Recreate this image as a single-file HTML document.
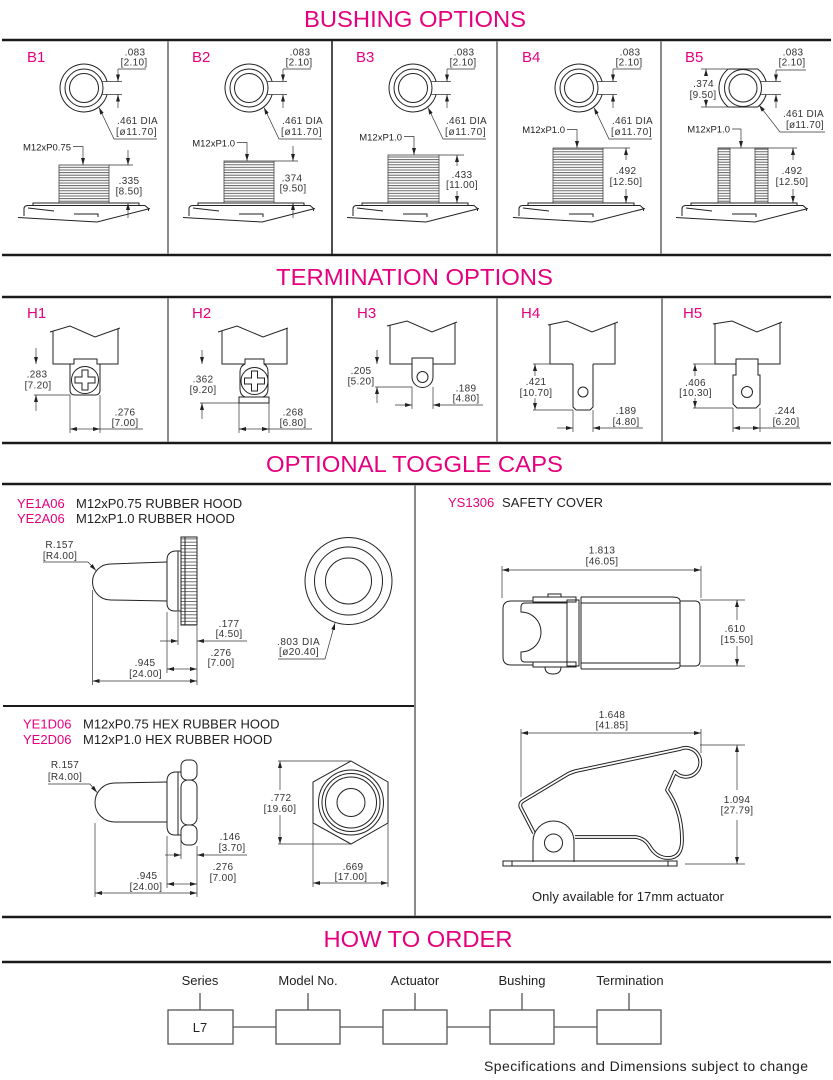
<!DOCTYPE html>
<html><head><meta charset="utf-8"><title>Options</title>
<style>
html,body{margin:0;padding:0;background:#fff;width:833px;height:1080px;overflow:hidden}
svg{display:block}
text{font-family:"Liberation Sans",sans-serif}
.t{font-size:23px;fill:#e5007e}
.lb{font-size:15px;fill:#e5007e}
.d{font-size:10px;fill:#333;letter-spacing:.3px}
.s{font-size:9.5px;fill:#222}
.m{font-size:13px;fill:#222}
.mg{font-size:13px;fill:#e5007e}
.k{fill:none;stroke:#222;stroke-width:1}
.dl{fill:none;stroke:#333;stroke-width:.7}
</style></head><body>
<svg width="833" height="1080" viewBox="0 0 833 1080" xmlns="http://www.w3.org/2000/svg">
<defs>
<marker id="a" viewBox="0 0 7 4" refX="7" refY="2" markerUnits="userSpaceOnUse" markerWidth="7" markerHeight="4" orient="auto-start-reverse"><path d="M0,0L7,2L0,4z" fill="#222"/></marker>
<pattern id="th" patternUnits="userSpaceOnUse" width="8" height="2.6"><line x1="0" y1="1" x2="8" y2="1" stroke="#555" stroke-width="0.9"/></pattern>
<pattern id="kn" patternUnits="userSpaceOnUse" width="12" height="3.3"><line x1="0" y1="1" x2="12" y2="1" stroke="#333" stroke-width="0.7"/></pattern>
</defs>

<!-- frame lines -->
<g stroke="#1a1a1a" stroke-width="2.5">
<line x1="2" y1="40" x2="831" y2="40"/>
<line x1="2" y1="255" x2="831" y2="255"/>
<line x1="2" y1="297" x2="831" y2="297"/>
<line x1="2" y1="443" x2="831" y2="443"/>
<line x1="2" y1="484" x2="831" y2="484"/>
<line x1="2" y1="917" x2="831" y2="917"/>
<line x1="2" y1="962" x2="831" y2="962"/>
</g>
<line x1="3" y1="706" x2="415" y2="706" stroke="#1a1a1a" stroke-width="2"/>
<g stroke="#8a8a8a" stroke-width="2">
<line x1="168" y1="41" x2="168" y2="254"/>
<line x1="497" y1="41" x2="497" y2="254"/>
<line x1="661" y1="41" x2="661" y2="254"/>
<line x1="168" y1="298" x2="168" y2="442"/>
<line x1="497" y1="298" x2="497" y2="442"/>
<line x1="662" y1="298" x2="662" y2="442"/>
<line x1="415" y1="485" x2="415" y2="916"/>
</g>
<g stroke="#222" stroke-width="1.6">
<line x1="332" y1="41" x2="332" y2="254"/>
<line x1="332" y1="298" x2="332" y2="442"/>
</g>

<!-- titles -->
<text class="t" x="415" y="27" text-anchor="middle" textLength="222" lengthAdjust="spacingAndGlyphs">BUSHING OPTIONS</text>
<text class="t" x="414.5" y="285" text-anchor="middle" textLength="277" lengthAdjust="spacingAndGlyphs">TERMINATION OPTIONS</text>
<text class="t" x="414.5" y="472" text-anchor="middle" textLength="297" lengthAdjust="spacingAndGlyphs">OPTIONAL TOGGLE CAPS</text>
<text class="t" x="418" y="947" text-anchor="middle" textLength="189" lengthAdjust="spacingAndGlyphs">HOW TO ORDER</text>

<!-- B1 -->
<g transform="translate(0,0)">
<text class="lb" x="27" y="62">B1</text>
<path class="k" d="M107.1,81.5A24,24 0 1 0 107.1,94.5"/>
<circle class="k" cx="84" cy="88" r="19"/>
<circle class="k" cx="84" cy="88" r="14.5"/>
<path class="dl" d="M102,81.5H122M102,94.5H122M118,69H146"/>
<line class="dl" x1="118" y1="69" x2="118" y2="81.5" marker-end="url(#a)"/>
<line class="dl" x1="118" y1="108" x2="118" y2="94.5" marker-end="url(#a)"/>
<text class="d" x="135" y="55.5" text-anchor="middle">.083</text>
<text class="d" x="134" y="65.5" text-anchor="middle">[2.10]</text>
<polyline class="dl" points="157,139 114,139 99,107.5" marker-end="url(#a)"/>
<text class="d" x="117" y="124" textLength="41">.461 DIA</text>
<text class="d" x="116" y="135" textLength="41">[ø11.70]</text>
<text class="s" x="71" y="150.5" text-anchor="end">M12xP0.75</text>
<polyline class="dl" points="73,146.5 83,146.5 83,165" marker-end="url(#a)"/>
<rect x="59" y="165" width="50" height="38" fill="url(#th)" stroke="#444" stroke-width=".8"/>
<line class="dl" x1="109" y1="165" x2="133" y2="165"/>
<line class="dl" x1="128" y1="150" x2="128" y2="165" marker-end="url(#a)"/>
<line class="dl" x1="128" y1="218" x2="128" y2="203" marker-end="url(#a)"/>
<text class="d" x="129" y="184" text-anchor="middle">.335</text>
<text class="d" x="129" y="194.5" text-anchor="middle">[8.50]</text>
<path class="k" d="M24,216V209Q24,205.5 28,205.5H145L148.5,208.5V211M33,205.5V203H139V205.5M18,217.5L97,222L150,208.5M28,208L54,211M74,214H98V217"/>
</g>

<!-- B2 -->
<g transform="translate(165,0)">
<text class="lb" x="27" y="62">B2</text>
<path class="k" d="M107.1,81.5A24,24 0 1 0 107.1,94.5"/>
<circle class="k" cx="84" cy="88" r="19"/>
<circle class="k" cx="84" cy="88" r="14.5"/>
<path class="dl" d="M102,81.5H122M102,94.5H122M118,69H146"/>
<line class="dl" x1="118" y1="69" x2="118" y2="81.5" marker-end="url(#a)"/>
<line class="dl" x1="118" y1="108" x2="118" y2="94.5" marker-end="url(#a)"/>
<text class="d" x="135" y="55.5" text-anchor="middle">.083</text>
<text class="d" x="134" y="65.5" text-anchor="middle">[2.10]</text>
<polyline class="dl" points="157,139 114,139 99,107.5" marker-end="url(#a)"/>
<text class="d" x="117" y="124" textLength="41">.461 DIA</text>
<text class="d" x="116" y="135" textLength="41">[ø11.70]</text>
<text class="s" x="70" y="146.5" text-anchor="end">M12xP1.0</text>
<polyline class="dl" points="72,142.5 82,142.5 82,161" marker-end="url(#a)"/>
<rect x="59" y="161" width="50" height="42" fill="url(#th)" stroke="#444" stroke-width=".8"/>
<line class="dl" x1="109" y1="161" x2="133" y2="161"/>
<line class="dl" x1="128" y1="146" x2="128" y2="161" marker-end="url(#a)"/>
<line class="dl" x1="128" y1="218" x2="128" y2="203" marker-end="url(#a)"/>
<text class="d" x="127" y="181.5" text-anchor="middle">.374</text>
<text class="d" x="128" y="191.5" text-anchor="middle">[9.50]</text>
<path class="k" d="M24,216V209Q24,205.5 28,205.5H145L148.5,208.5V211M33,205.5V203H139V205.5M18,217.5L97,222L150,208.5M28,208L54,211M74,214H98V217"/>
</g>

<!-- B3 -->
<g transform="translate(329,0)">
<text class="lb" x="27" y="62">B3</text>
<path class="k" d="M107.1,81.5A24,24 0 1 0 107.1,94.5"/>
<circle class="k" cx="84" cy="88" r="19"/>
<circle class="k" cx="84" cy="88" r="14.5"/>
<path class="dl" d="M102,81.5H122M102,94.5H122M118,69H146"/>
<line class="dl" x1="118" y1="69" x2="118" y2="81.5" marker-end="url(#a)"/>
<line class="dl" x1="118" y1="108" x2="118" y2="94.5" marker-end="url(#a)"/>
<text class="d" x="135" y="55.5" text-anchor="middle">.083</text>
<text class="d" x="134" y="65.5" text-anchor="middle">[2.10]</text>
<polyline class="dl" points="157,139 114,139 99,107.5" marker-end="url(#a)"/>
<text class="d" x="117" y="124" textLength="41">.461 DIA</text>
<text class="d" x="116" y="135" textLength="41">[ø11.70]</text>
<text class="s" x="73" y="140.5" text-anchor="end">M12xP1.0</text>
<polyline class="dl" points="75,136.5 85,136.5 85,155" marker-end="url(#a)"/>
<rect x="59" y="155" width="51" height="48" fill="url(#th)" stroke="#444" stroke-width=".8"/>
<line class="dl" x1="110" y1="155" x2="135" y2="155"/>
<line class="dl" x1="128" y1="166" x2="128" y2="155" marker-end="url(#a)"/>
<line class="dl" x1="128" y1="191" x2="128" y2="203" marker-end="url(#a)"/>
<text class="d" x="133" y="178" text-anchor="middle">.433</text>
<text class="d" x="133" y="188" text-anchor="middle">[11.00]</text>
<path class="k" d="M24,216V209Q24,205.5 28,205.5H145L148.5,208.5V211M33,205.5V203H139V205.5M18,217.5L97,222L150,208.5M28,208L54,211M74,214H98V217"/>
</g>

<!-- B4 -->
<g transform="translate(495,0)">
<text class="lb" x="27" y="62">B4</text>
<path class="k" d="M107.1,81.5A24,24 0 1 0 107.1,94.5"/>
<circle class="k" cx="84" cy="88" r="19"/>
<circle class="k" cx="84" cy="88" r="14.5"/>
<path class="dl" d="M102,81.5H122M102,94.5H122M118,69H146"/>
<line class="dl" x1="118" y1="69" x2="118" y2="81.5" marker-end="url(#a)"/>
<line class="dl" x1="118" y1="108" x2="118" y2="94.5" marker-end="url(#a)"/>
<text class="d" x="135" y="55.5" text-anchor="middle">.083</text>
<text class="d" x="134" y="65.5" text-anchor="middle">[2.10]</text>
<polyline class="dl" points="157,139 114,139 99,107.5" marker-end="url(#a)"/>
<text class="d" x="117" y="124" textLength="41">.461 DIA</text>
<text class="d" x="116" y="135" textLength="41">[ø11.70]</text>
<text class="s" x="70" y="133" text-anchor="end">M12xP1.0</text>
<polyline class="dl" points="72,129.5 82,129.5 82,148" marker-end="url(#a)"/>
<rect x="58" y="148" width="50" height="55" fill="url(#th)" stroke="#444" stroke-width=".8"/>
<line class="dl" x1="108" y1="148" x2="135" y2="148"/>
<line class="dl" x1="131" y1="160" x2="131" y2="148" marker-end="url(#a)"/>
<line class="dl" x1="131" y1="189" x2="131" y2="203" marker-end="url(#a)"/>
<text class="d" x="131" y="174" text-anchor="middle">.492</text>
<text class="d" x="131" y="185" text-anchor="middle">[12.50]</text>
<path class="k" d="M24,216V209Q24,205.5 28,205.5H145L148.5,208.5V211M33,205.5V203H139V205.5M18,217.5L97,222L150,208.5M28,208L54,211M74,214H98V217"/>
</g>

<!-- B5 -->
<g transform="translate(658,0)">
<text class="lb" x="27" y="62">B5</text>
<path class="k" d="M70.3,69H99.7A24,24 0 0 1 108.1,81.5M108.1,94.5A24,24 0 0 1 99.7,107H70.3A24,24 0 0 1 70.3,69"/>
<circle class="k" cx="85" cy="88" r="18.5"/>
<circle class="k" cx="85" cy="88" r="14"/>
<path class="dl" d="M102.5,81.5H123M102.5,94.5H123M118,70H148"/>
<line class="dl" x1="118" y1="70" x2="118" y2="81.5" marker-end="url(#a)"/>
<line class="dl" x1="118" y1="108" x2="118" y2="94.5" marker-end="url(#a)"/>
<text class="d" x="135" y="55.5" text-anchor="middle">.083</text>
<text class="d" x="134" y="65.5" text-anchor="middle">[2.10]</text>
<path class="dl" d="M43,69H70M43,107H70"/>
<line class="dl" x1="48" y1="76" x2="48" y2="69" marker-end="url(#a)"/>
<line class="dl" x1="48" y1="99" x2="48" y2="107" marker-end="url(#a)"/>
<text class="d" x="45.5" y="87" text-anchor="middle">.374</text>
<text class="d" x="45" y="98" text-anchor="middle">[9.50]</text>
<polyline class="dl" points="167,132 122,132 101,105" marker-end="url(#a)"/>
<text class="d" x="125" y="117" textLength="41">.461 DIA</text>
<text class="d" x="128" y="128" textLength="38">[ø11.70]</text>
<text class="s" x="72" y="132.5" text-anchor="end">M12xP1.0</text>
<polyline class="dl" points="74,129 83,129 83,148" marker-end="url(#a)"/>
<rect x="60" y="148" width="12" height="55" fill="url(#th)" stroke="#444" stroke-width=".8"/>
<rect x="97" y="148" width="13" height="55" fill="url(#th)" stroke="#444" stroke-width=".8"/>
<line class="dl" x1="60" y1="148" x2="139" y2="148"/>
<line class="dl" x1="135" y1="160" x2="135" y2="148" marker-end="url(#a)"/>
<line class="dl" x1="135" y1="189" x2="135" y2="203" marker-end="url(#a)"/>
<text class="d" x="134" y="174" text-anchor="middle">.492</text>
<text class="d" x="134" y="185" text-anchor="middle">[12.50]</text>
<path class="k" d="M24,216V209Q24,205.5 28,205.5H145L148.5,208.5V211M33,205.5V203H139V205.5M18,217.5L97,222L150,208.5M28,208L54,211M74,214H98V217"/>
</g>

<!-- H1 -->
<text class="lb" x="27" y="318">H1</text>
<path class="k" d="M50,332L70,326L95,337L120,328M53,331V364H74M97,364H118V329"/>
<path class="k" d="M74,364V359H97V364H100V390Q100,395 95,395H75Q70,395 70,390V364Z"/>
<circle class="k" cx="85" cy="380" r="13.5"/>
<path class="k" d="M82,370H88V377H95V383H88V390H82V383H75V377H82Z"/>
<line class="dl" x1="36" y1="348" x2="36" y2="364" marker-end="url(#a)"/>
<line class="dl" x1="36" y1="411" x2="36" y2="395" marker-end="url(#a)"/>
<line class="dl" x1="34" y1="395" x2="70" y2="395"/>
<text class="d" x="37" y="377.5" text-anchor="middle">.283</text>
<text class="d" x="38" y="388.5" text-anchor="middle">[7.20]</text>
<path class="dl" d="M70,395V433M100,395V433M100,429H143"/>
<line class="dl" x1="85" y1="429" x2="70" y2="429" marker-end="url(#a)"/>
<line class="dl" x1="85" y1="429" x2="100" y2="429" marker-end="url(#a)"/>
<text class="d" x="125" y="415.5" text-anchor="middle">.276</text>
<text class="d" x="125" y="426" text-anchor="middle">[7.00]</text>

<!-- H2 -->
<text class="lb" x="192" y="318">H2</text>
<path class="k" d="M218,332L237,326L263,337L288,328M222,331V364H245M264,364H287V329"/>
<path class="k" d="M245,364V359H264V364Q268,366 268,372V389Q268,395 263,397H245Q240,395 240,389V372Q240,366 245,364Z"/>
<rect class="k" x="239" y="397" width="30" height="6"/>
<circle class="k" cx="254.5" cy="381" r="13.5"/>
<path class="k" d="M251.5,371H257.5V378H264.5V384H257.5V391H251.5V384H244.5V378H251.5Z"/>
<line class="dl" x1="202" y1="350" x2="202" y2="364" marker-end="url(#a)"/>
<line class="dl" x1="202" y1="419" x2="202" y2="403" marker-end="url(#a)"/>
<line class="dl" x1="200" y1="403" x2="239" y2="403"/>
<text class="d" x="203" y="382.5" text-anchor="middle">.362</text>
<text class="d" x="203" y="393" text-anchor="middle">[9.20]</text>
<path class="dl" d="M239,403V433M269,403V433M269,429H312"/>
<line class="dl" x1="254" y1="429" x2="239" y2="429" marker-end="url(#a)"/>
<line class="dl" x1="254" y1="429" x2="269" y2="429" marker-end="url(#a)"/>
<text class="d" x="293" y="415.5" text-anchor="middle">.268</text>
<text class="d" x="293" y="426" text-anchor="middle">[6.80]</text>

<!-- H3 -->
<text class="lb" x="357" y="318">H3</text>
<path class="k" d="M387,326L407,321L432,332L457,322M390,325V364H412M433,364H455V323"/>
<path class="k" d="M412,364V358H433V377A10.5,10.5 0 0 1 412,377Z"/>
<circle class="k" cx="422.5" cy="377" r="5.5"/>
<line class="dl" x1="377" y1="350" x2="377" y2="364" marker-end="url(#a)"/>
<line class="dl" x1="377" y1="403" x2="377" y2="387" marker-end="url(#a)"/>
<line class="dl" x1="375" y1="387" x2="412" y2="387"/>
<text class="d" x="361" y="374" text-anchor="middle">.205</text>
<text class="d" x="361" y="384.5" text-anchor="middle">[5.20]</text>
<path class="dl" d="M412,387V409M433,387V409"/>
<line class="dl" x1="395" y1="405" x2="412" y2="405" marker-end="url(#a)"/>
<line class="dl" x1="483" y1="405" x2="433" y2="405" marker-end="url(#a)"/>
<text class="d" x="466" y="391.5" text-anchor="middle">.189</text>
<text class="d" x="466" y="401.5" text-anchor="middle">[4.80]</text>

<!-- H4 -->
<text class="lb" x="521" y="318">H4</text>
<path class="k" d="M548,325L567,321L592,332L618,322M550,324V364H573M593,364H615V323"/>
<path class="k" d="M573,364V407L576,410H590L593,407V364"/>
<circle class="k" cx="583" cy="392" r="5"/>
<line class="dl" x1="535" y1="376" x2="535" y2="364" marker-end="url(#a)"/>
<line class="dl" x1="535" y1="398" x2="535" y2="410" marker-end="url(#a)"/>
<path class="dl" d="M533,364H550M533,410H573M573,410V432M593,410V432"/>
<line class="dl" x1="557" y1="428" x2="573" y2="428" marker-end="url(#a)"/>
<line class="dl" x1="643" y1="428" x2="593" y2="428" marker-end="url(#a)"/>
<text class="d" x="536" y="385" text-anchor="middle">.421</text>
<text class="d" x="536" y="396" text-anchor="middle">[10.70]</text>
<text class="d" x="626" y="414" text-anchor="middle">.189</text>
<text class="d" x="626" y="425" text-anchor="middle">[4.80]</text>

<!-- H5 -->
<text class="lb" x="683" y="318">H5</text>
<path class="k" d="M713,324L732,321L757,332L782,322M715,323V364H736M758,364H780V323"/>
<path class="k" d="M736,364V359H758V375H760V404L756,408H737L733,404V375H736Z"/>
<circle class="k" cx="747" cy="392" r="5.5"/>
<line class="dl" x1="695" y1="376" x2="695" y2="364" marker-end="url(#a)"/>
<line class="dl" x1="695" y1="398" x2="695" y2="408" marker-end="url(#a)"/>
<path class="dl" d="M693,364H715M693,408H733M733,408V432M760,408V432M760,428H800"/>
<line class="dl" x1="746" y1="428" x2="733" y2="428" marker-end="url(#a)"/>
<line class="dl" x1="746" y1="428" x2="760" y2="428" marker-end="url(#a)"/>
<text class="d" x="695.5" y="386" text-anchor="middle">.406</text>
<text class="d" x="695.5" y="396" text-anchor="middle">[10.30]</text>
<text class="d" x="785" y="414" text-anchor="middle">.244</text>
<text class="d" x="786" y="425" text-anchor="middle">[6.20]</text>

<!-- Round rubber hood -->
<text class="mg" x="17" y="508">YE1A06</text>
<text class="m" x="76" y="508">M12xP0.75 RUBBER HOOD</text>
<text class="mg" x="17" y="523">YE2A06</text>
<text class="m" x="76" y="523">M12xP1.0 RUBBER HOOD</text>
<path class="k" d="M167,562L110.5,564A18,18 0 0 0 110.5,600L167,601"/>
<path class="k" d="M181,551H175Q167,552 167,560V603Q167,611 175,611H181"/>
<line class="k" x1="178" y1="551" x2="178" y2="611"/>
<rect x="181" y="537" width="16" height="88" fill="url(#kn)" stroke="#222" stroke-width="1"/>
<line class="k" x1="185" y1="537" x2="185" y2="625"/>
<text class="d" x="59.5" y="548" text-anchor="middle">R.157</text>
<text class="d" x="60" y="559" text-anchor="middle">[R4.00]</text>
<polyline class="dl" points="43,562 88,562 96,570.5" marker-end="url(#a)"/>
<path class="dl" d="M92.5,590V685M167,612V673M178,612V645M197,626V685"/>
<line class="dl" x1="160" y1="641" x2="178" y2="641" marker-end="url(#a)"/>
<line class="dl" x1="247" y1="641" x2="197" y2="641" marker-end="url(#a)"/>
<text class="d" x="229" y="627" text-anchor="middle">.177</text>
<text class="d" x="229" y="637" text-anchor="middle">[4.50]</text>
<line class="dl" x1="182" y1="669" x2="167" y2="669" marker-end="url(#a)"/>
<line class="dl" x1="182" y1="669" x2="197" y2="669" marker-end="url(#a)"/>
<text class="d" x="221" y="656" text-anchor="middle">.276</text>
<text class="d" x="221" y="666" text-anchor="middle">[7.00]</text>
<line class="dl" x1="92.5" y1="681" x2="197" y2="681" marker-start="url(#a)" marker-end="url(#a)"/>
<text class="d" x="145" y="666" text-anchor="middle">.945</text>
<text class="d" x="145.5" y="677" text-anchor="middle">[24.00]</text>
<circle class="k" cx="348.5" cy="581" r="43.5"/>
<circle class="k" cx="348.5" cy="581" r="34"/>
<circle class="k" cx="348.5" cy="581" r="23"/>
<polyline class="dl" points="278,659 325,659 335,623" marker-end="url(#a)"/>
<text class="d" x="277" y="645" textLength="43">.803 DIA</text>
<text class="d" x="279" y="655" textLength="40">[ø20.40]</text>

<!-- Hex rubber hood -->
<text class="mg" x="23" y="728.5">YE1D06</text>
<text class="m" x="83" y="728.5">M12xP0.75 HEX RUBBER HOOD</text>
<text class="mg" x="23" y="744">YE2D06</text>
<text class="m" x="83" y="744">M12xP1.0 HEX RUBBER HOOD</text>
<text class="d" x="65" y="768" text-anchor="middle">R.157</text>
<text class="d" x="65" y="780" text-anchor="middle">[R4.00]</text>
<polyline class="dl" points="48,784 90,784 97,792.5" marker-end="url(#a)"/>
<path class="k" d="M167,782L114.5,783A19.5,19.5 0 0 0 114.5,822L167,822"/>
<path class="k" d="M181,772H175Q167,773 167,781V826Q167,835 175,835H181"/>
<line class="k" x1="178" y1="772" x2="178" y2="835"/>
<rect class="k" x="181" y="760" width="16" height="20" rx="6"/>
<rect class="k" x="181" y="780" width="16" height="45" rx="7"/>
<rect class="k" x="181" y="825" width="16" height="20" rx="6"/>
<path class="dl" d="M95,823V897M167,836V888M181,836V859M197,846V897"/>
<line class="dl" x1="165" y1="855" x2="181" y2="855" marker-end="url(#a)"/>
<line class="dl" x1="247" y1="855" x2="197" y2="855" marker-end="url(#a)"/>
<text class="d" x="230" y="840" text-anchor="middle">.146</text>
<text class="d" x="232" y="851" text-anchor="middle">[3.70]</text>
<line class="dl" x1="182" y1="884" x2="167" y2="884" marker-end="url(#a)"/>
<line class="dl" x1="182" y1="884" x2="197" y2="884" marker-end="url(#a)"/>
<text class="d" x="223" y="870" text-anchor="middle">.276</text>
<text class="d" x="223" y="881" text-anchor="middle">[7.00]</text>
<line class="dl" x1="95" y1="893" x2="197" y2="893" marker-start="url(#a)" marker-end="url(#a)"/>
<text class="d" x="147" y="879" text-anchor="middle">.945</text>
<text class="d" x="146" y="890" text-anchor="middle">[24.00]</text>
<polygon class="k" points="351,761 388,782 388,823 351,844 313,823 313,782"/>
<circle class="k" cx="351" cy="802.5" r="32.5"/>
<circle class="k" cx="351" cy="802.5" r="29"/>
<circle class="k" cx="351" cy="802.5" r="25.5"/>
<circle class="k" cx="351" cy="802.5" r="14"/>
<path class="dl" d="M278,761H351M278,844H351"/>
<line class="dl" x1="280" y1="790" x2="280" y2="761" marker-end="url(#a)"/>
<line class="dl" x1="280" y1="815" x2="280" y2="844" marker-end="url(#a)"/>
<text class="d" x="281" y="801" text-anchor="middle">.772</text>
<text class="d" x="280" y="812" text-anchor="middle">[19.60]</text>
<path class="dl" d="M313,823V887M388,823V887"/>
<line class="dl" x1="313" y1="883" x2="388" y2="883" marker-start="url(#a)" marker-end="url(#a)"/>
<text class="d" x="353" y="870" text-anchor="middle">.669</text>
<text class="d" x="351" y="880" text-anchor="middle">[17.00]</text>

<!-- Safety cover -->
<text class="mg" x="448" y="507">YS1306</text>
<text class="m" x="502" y="507" textLength="101">SAFETY COVER</text>
<text class="d" x="602" y="553.5" text-anchor="middle">1.813</text>
<text class="d" x="602" y="564.5" text-anchor="middle">[46.05]</text>
<line class="dl" x1="502" y1="570" x2="701" y2="570" marker-start="url(#a)" marker-end="url(#a)"/>
<path class="dl" d="M502,566V598M701,566V598M700,600H745M700,666H745"/>
<line class="dl" x1="737" y1="620" x2="737" y2="600" marker-end="url(#a)"/>
<line class="dl" x1="737" y1="646" x2="737" y2="666" marker-end="url(#a)"/>
<text class="d" x="735" y="632" text-anchor="middle">.610</text>
<text class="d" x="737" y="643" text-anchor="middle">[15.50]</text>
<path class="k" d="M533,601H511Q503,601 503,609V657Q503,665 511,665H533"/>
<path class="k" d="M567,603H525Q521,603 521,607V612A20,20 0 0 1 521,652V658Q521,662 525,662H567"/>
<rect class="k" x="533" y="597" width="43" height="5"/>
<rect class="k" x="548" y="594" width="13" height="3"/>
<rect class="k" x="533" y="662" width="43" height="5"/>
<path class="k" d="M545,667Q545,674 553,674Q561,674 561,667"/>
<rect class="k" x="567" y="600" width="12" height="66"/>
<path class="k" d="M581,597H672Q680,597 680,601M581,669H672Q680,669 680,666M581,597V669M581,603H680M581,663H680"/>
<path class="k" d="M680,601H695Q700,601 700,606V661Q700,666 695,666H680Z"/>

<text class="d" x="612" y="718" text-anchor="middle">1.648</text>
<text class="d" x="612" y="728.5" text-anchor="middle">[41.85]</text>
<line class="dl" x1="521" y1="733" x2="701" y2="733" marker-start="url(#a)" marker-end="url(#a)"/>
<path class="dl" d="M521,729V797M701,729V753M700,745H745M685,864H745"/>
<line class="dl" x1="737" y1="790" x2="737" y2="745" marker-end="url(#a)"/>
<line class="dl" x1="737" y1="820" x2="737" y2="864" marker-end="url(#a)"/>
<text class="d" x="737" y="803" text-anchor="middle">1.094</text>
<text class="d" x="737" y="813.5" text-anchor="middle">[27.79]</text>
<g fill="none" stroke-linejoin="round">
<path d="M534,833L520.5,807Q519.5,803 523,801L568,774Q571,772.5 576,771L680,749A14.5,14.5 0 1 1 675,772L667,790C674,800 682,815 682,840Q682,858 668,858Q657,858 650,847Q645,838 635,837L575,837" stroke="#222" stroke-width="3.8"/>
<path d="M534,833L520.5,807Q519.5,803 523,801L568,774Q571,772.5 576,771L680,749A14.5,14.5 0 1 1 675,772L667,790C674,800 682,815 682,840Q682,858 668,858Q657,858 650,847Q645,838 635,837L575,837" stroke="#fff" stroke-width="1.8"/>
</g>
<path d="M533,862V841.5A20.5,20.5 0 0 1 574,841.5V862" style="fill:#fff;stroke:#222;stroke-width:1"/>
<circle class="k" cx="553.5" cy="843" r="9"/>
<rect class="k" x="503" y="861" width="174" height="5"/>
<path class="k" d="M512,861V866M668,861V866"/>
<text class="m" x="532" y="901" textLength="192">Only available for 17mm actuator</text>

<!-- How to order -->
<g class="m" text-anchor="middle">
<text x="200" y="985">Series</text>
<text x="308" y="985">Model No.</text>
<text x="415" y="985">Actuator</text>
<text x="522" y="985">Bushing</text>
<text x="630" y="985">Termination</text>
<text x="200" y="1032">L7</text>
</g>
<g stroke="#555" stroke-width="1.3" fill="none">
<path d="M200,993V1010M308,993V1010M415,993V1010M522,993V1010M629,993V1010"/>
<rect x="168" y="1010" width="65" height="34"/>
<rect x="276" y="1010" width="64" height="34"/>
<rect x="383" y="1010" width="64" height="34"/>
<rect x="490" y="1010" width="64" height="34"/>
<rect x="597" y="1010" width="64" height="34"/>
<path d="M233,1027H276M340,1027H383M447,1027H490M554,1027H597"/>
</g>
<text x="484" y="1071" style="font-size:14px;fill:#222" textLength="324">Specifications and Dimensions subject to change</text>
</svg>
</body></html>
